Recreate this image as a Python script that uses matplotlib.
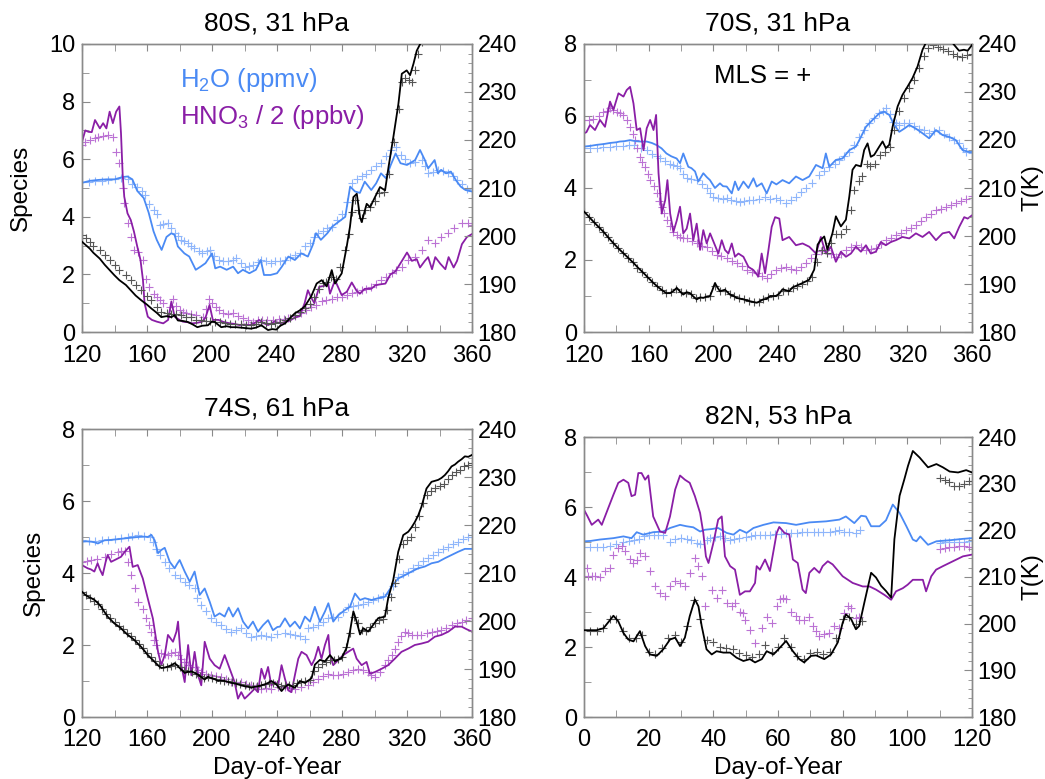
import matplotlib
matplotlib.use('Agg')
import matplotlib.pyplot as plt
from matplotlib.ticker import MultipleLocator

plt.rcParams['font.family'] = ['Liberation Sans', 'DejaVu Sans']
plt.rcParams['mathtext.fontset'] = 'custom'
plt.rcParams['mathtext.rm'] = 'Liberation Sans'
plt.rcParams['mathtext.it'] = 'Liberation Sans:italic'

# ---------------- DATA (day, value) ----------------
# Panel 1: 80S, 31 hPa
P1_H2O_MOD = [(120,5.18),(125,5.25),(130,5.28),(135,5.3),(140,5.3),(145,5.38),(148,5.4),(151,5.3),(154,4.9),(158,4.65),
 (161,4.15),(164,3.5),(166,3.2),(169,2.85),(172,3.3),(175,3.43),(177,3.37),(179,2.97),(183,2.73),(186,2.62),
 (188,2.39),(190,2.16),(193,2.27),(196,2.39),(200,2.73),(202,2.21),(205,2.27),(209,2.16),(213,2.27),(216,2.04),
 (219,2.16),(223,2.04),(227,2.16),(230,2.5),(232,1.98),(236,1.98),(240,2.04),(243,2.27),(247,2.62),(251,2.5),
 (255,2.73),(259,2.62),(262,3.02),(264,3.43),(267,3.2),(271,3.43),(274,3.66),(278,3.83),(282,4.0),(285,5.05),
 (288,4.88),(291,4.83),(294,5.22),(298,4.93),(301,5.16),(304,5.51),(307,5.34),(310,5.8),(313,6.2),(316,5.86),
 (320,5.8),(325,5.97),(328,6.32),(331,5.97),(333,5.68),(337,5.97),(339,5.51),(341,5.63),(344,5.51),(347,5.57),
 (350,5.28),(353,5.05),(356,4.93),(360,4.88)]
P1_H2O_MLS = [(120,5.22),(124,5.22),(128,5.24),(132,5.25),(136,5.28),(140,5.3),(144,5.33),(148,5.3),(151,5.15),(154,5.05),
 (157,4.9),(159,4.75),(161,4.45),(164,4.25),(166,4.1),(168,3.7),(170,3.75),(173,3.77),(175,3.6),(177,3.43),(179,3.35),
 (181,3.2),(183,3.15),(185,3.08),(187,3.0),(189,2.91),(192,2.8),(194,2.73),(197,2.8),(199,2.85),(201,2.65),(204,2.5),
 (207,2.48),(210,2.45),(213,2.5),(215,2.56),(218,2.4),(220,2.27),(223,2.3),(225,2.33),(228,2.42),(230,2.5),(233,2.45),
 (236,2.39),(239,2.45),(242,2.48),(245,2.5),(248,2.6),(251,2.68),(254,2.75),(257,2.97),(260,3.1),(263,3.3),(265,3.43),
 (268,3.5),(271,3.6),(274,3.66),(277,3.9),(280,4.1),(283,4.5),(286,5.16),(289,5.3),(292,5.4),(295,5.5),(298,5.63),
 (301,5.75),(304,5.86),(307,6.1),(310,6.32),(313,6.44),(316,6.15),(319,6.0),(322,5.86),(325,5.9),(329,5.97),(331,5.75),
 (333,5.51),(336,5.55),(339,5.63),(342,5.58),(345,5.51),(348,5.4),(351,5.28),(354,5.15),(357,4.98),(360,4.9)]
P1_HNO3_MOD = [(120,6.6),(122,7.0),(124,6.95),(126,6.94),(128,7.36),(131,7.07),(133,7.25),(135,7.07),(137,7.65),(139,7.25),
 (141,7.65),(143,7.83),(144,6.9),(145,5.5),(146,4.7),(148,4.12),(150,3.89),(152,3.48),(154,2.97),(156,2.5),(157.5,1.81),
 (158.5,1.0),(160.5,0.53),(163,0.42),(166,0.36),(170,0.3),(173,0.42),(175,1.06),(177,0.53),(180,0.42),(182,0.36),
 (185,0.34),(188,0.3),(191,0.32),(194,0.36),(196,0.5),(198.5,0.94),(200.5,0.42),(204,0.42),(207,0.35),(211,0.3),
 (214,0.28),(217,0.24),(220,0.26),(223,0.24),(226,0.3),(229,0.42),(232,0.3),(234.5,0.24),(238.5,0.36),(242,0.3),
 (245,0.35),(248,0.4),(251,0.5),(254,0.55),(257,1.0),(259,1.45),(261,1.2),(263,1.0),(266,1.57),(269,1.6),(271.5,1.68),
 (272.6,1.33),(275.7,1.8),(279.8,1.28),(283,1.4),(286,1.72),(289,1.43),(291,1.33),(294,1.5),(298,1.5),(300.5,1.62),
 (303,1.65),(306.7,1.68),(309.8,2.0),(312.8,2.1),(316.9,2.47),(320,2.76),(323,2.47),(326,2.53),(328,2.24),(331,2.47),
 (333,2.6),(335.4,2.18),(337.4,2.6),(340.5,2.37),(343.6,2.18),(345.6,2.6),(348.7,2.24),(350.8,2.47),(353.8,3.05),
 (356.9,3.3),(360,3.4)]
P1_HNO3_MLS = [(120,6.5),(122,6.6),(125,6.65),(128,6.72),(130,6.78),(133,6.8),(136,6.84),(139,6.78),(141,6.26),(143,5.86),
 (145,5.0),(146,4.47),(148,3.77),(150,3.31),(152,2.85),(154.5,2.79),(157.5,2.5),(159.5,1.85),(161.5,1.55),(164,1.33),
 (166,1.22),(168,1.1),(170,0.99),(174,0.88),(176,1.16),(178,0.9),(180,0.76),(182,0.7),(184,0.65),(187,0.62),(190,0.59),
 (194.5,0.53),(196,0.8),(198,1.16),(200,1.0),(202.6,0.88),(204.5,0.75),(207,0.65),(210,0.63),(213,0.65),(216,0.55),
 (219,0.47),(222,0.42),(225,0.36),(228,0.4),(231,0.42),(234,0.42),(237.5,0.42),(241,0.44),(244,0.45),(247,0.47),
 (251,0.55),(255,0.65),(258,0.75),(261,0.88),(264,0.95),(267.5,1.06),(270,1.1),(273.7,1.16),(277,1.2),(279.8,1.22),
 (283,1.28),(286,1.34),(289,1.4),(292,1.45),(295,1.5),(298,1.57),(301,1.65),(304,1.8),(307,1.9),(310.5,2.04),(313,2.15),
 (316.7,2.27),(320.8,2.5),(324.9,2.62),(329,2.85),(333,3.2),(337,3.08),(341,3.31),(345,3.43),(349,3.6),(353.6,3.77),
 (357.7,3.77),(360,3.72)]
P1_T_MOD = [(120,198.8),(122,198.2),(124.7,197.4),(127,196.5),(130.9,195.3),(134,194.0),(137,192.9),(140,191.8),(143,190.8),
 (147,189.8),(150,188.7),(153,187.6),(156.5,186.6),(160,185.7),(162.7,184.9),(166,184.0),(168.8,183.1),(172,183.3),
 (175,183.1),(177,183.5),(179,182.4),(182,182.3),(185,182.1),(188,181.6),(191,181.0),(194,181.3),(197.5,181.4),
 (200,182.2),(201.6,182.1),(205.7,181.0),(209,181.2),(212,181.0),(215,181.0),(218,180.9),(221,180.8),(224,180.7),
 (227,180.9),(230.4,181.4),(232,181.0),(234.5,180.4),(237,180.6),(239.6,180.5),(242,181.3),(245,181.8),(248,182.9),
 (251,183.9),(254,184.5),(257,185.3),(261,187.4),(264.4,190.1),(267.5,190.8),(270.6,189.5),(273.7,192.9),(275.7,190.1),
 (279.8,192.2),(282.9,197.8),(284.9,201.9),(287,208.1),(289.1,208.8),(291.1,203.9),(292.1,202.9),(295.2,206.7),
 (297.3,206.0),(300.3,208.1),(303.4,210.2),(306.5,209.5),(308.6,214.3),(311.6,220.6),(314.7,227.5),(316.8,233.8),
 (319.8,234.5),(321.9,233.5),(324,235.9),(326,238.6),(328.1,240.0),(330,241.5),(333,243.0)]
P1_T_MLS = [(120,200.2),(122.5,199.6),(124.7,198.8),(127,198.0),(130.9,197.1),(134,196.0),(137,195.0),(140,194.0),(143,192.9),
 (147,191.8),(150,190.8),(153,189.8),(156.5,188.7),(160,187.6),(162.7,186.6),(166,185.3),(168.8,184.2),(172,184.0),
 (175,183.8),(178,183.7),(181,183.5),(184,183.2),(187,183.1),(190,182.6),(193,182.4),(196,182.2),(199,182.2),(202,182.1),
 (205,182.1),(208,181.9),(211,181.7),(214,181.7),(218,181.7),(221,181.5),(224,181.4),(227,181.6),(230,182.1),(233,181.9),
 (236,181.7),(239,181.8),(242,182.1),(245,182.5),(248,182.9),(251,183.6),(254,184.1),(257,185.0),(260,185.8),(263,187.3),
 (266,189.0),(268,190.2),(270,190.5),(273,191.5),(276,191.0),(279,193.5),(282,197.0),(284,200.5),(286,205.0),(288,207.5),
 (290,205.5),(292,203.8),(294,205.5),(297,206.0),(300,207.3),(303,209.0),(306,209.2),(309,213.0),(312,219.5),(315,226.5),
 (317,232.0),(319,233.0),(321,232.5),(323,232.0),(325,234.5),(327,238.0),(329,240.5),(331,242.0)]

# Panel 2: 70S, 31 hPa
P2_H2O_MOD = [(120,5.15),(124,5.17),(128,5.2),(132,5.22),(136,5.25),(140,5.27),(142,5.29),(145,5.3),(148.5,5.33),(152,5.3),
 (155,5.29),(158.8,5.29),(162,5.25),(165,5.19),(168,5.1),(171,4.96),(174,4.88),(177.3,4.82),(179.4,4.69),(181.4,4.96),
 (184.5,4.59),(186.5,4.55),(188.7,4.46),(190.7,4.18),(193.8,4.41),(196,4.3),(197.9,4.22),(201,4.0),(204.1,4.13),(206,4.05),
 (208.3,4.04),(211.4,3.85),(213.4,4.18),(215.5,3.94),(218.6,4.18),(221.7,4.0),(224.8,4.27),(226.8,4.04),(229.9,4.13),
 (233,3.85),(236.1,4.18),(239,4.1),(242.8,4.22),(246.9,4.13),(251.1,4.32),(255.2,4.22),(259.3,4.32),(263.5,4.64),
 (267.6,4.55),(269.6,4.96),(271.7,4.59),(275.8,4.78),(279.9,4.82),(284.1,5.05),(288.2,5.15),(291.3,5.42),(294.4,5.7),
 (298.5,5.89),(302.6,6.07),(305.7,6.12),(308.8,6.03),(311.9,5.75),(315,5.56),(318.1,5.65),(321.2,5.75),(325.3,5.65),
 (329.4,5.52),(333.5,5.38),(337.7,5.61),(341.8,5.47),(345.9,5.42),(350,5.33),(354.2,5.05),(358.3,5.0),(360,5.0)]
P2_H2O_MLS = [(120,5.1),(124,5.12),(128,5.12),(132,5.14),(136,5.15),(140,5.17),(144,5.18),(148,5.19),(151,5.19),(155,5.12),
 (158.8,5.05),(162,4.95),(165,4.88),(167,4.82),(170,4.75),(173,4.68),(175.3,4.64),(177.5,4.6),(179.4,4.55),(181.5,4.4),
 (183.5,4.27),(186,4.25),(189.7,4.22),(193,4.1),(195.9,4.0),(198,3.85),(200,3.76),(203,3.72),(206,3.7),(208.3,3.72),
 (211,3.66),(214,3.64),(216.5,3.62),(219,3.64),(222,3.66),(224.8,3.67),(228,3.7),(232,3.76),(235,3.7),(238.7,3.72),
 (241.5,3.68),(244.9,3.57),(248,3.68),(251.1,3.76),(254,3.88),(257.2,4.0),(261.3,4.13),(265.5,4.36),(268.5,4.48),
 (271.7,4.59),(275,4.68),(277.9,4.78),(281,4.88),(284.1,5.01),(287,5.2),(290.2,5.42),(293,5.6),(296.4,5.8),(299.5,5.95),
 (302.6,6.07),(304.7,6.15),(306.8,6.21),(309,6.05),(310.9,5.84),(313,5.8),(315,5.75),(318,5.8),(321.2,5.8),(324.3,5.72),
 (327.4,5.65),(330.5,5.6),(333.5,5.52),(336.6,5.58),(339.7,5.61),(342.8,5.5),(345.9,5.42),(349,5.32),(352.1,5.24),
 (354.2,5.1),(356.2,5.0),(360,4.98)]
P2_HNO3_MOD = [(120,5.52),(121.5,5.55),(123.7,5.75),(126.8,5.61),(129.9,5.89),(133,5.7),(136.1,6.4),(138.2,6.17),(141.3,6.63),
 (144.4,6.54),(146.4,6.72),(148.5,6.81),(150.6,6.35),(152.6,5.61),(154.7,5.66),(156.8,5.05),(158.8,5.66),(160.9,5.89),
 (163,5.61),(164.6,6.03),(166.1,4.41),(168.1,3.29),(170.2,3.66),(171.6,4.22),(173.3,3.29),(175.3,2.78),(177.4,3.1),
 (179.4,3.48),(181.4,2.74),(183.5,2.87),(185.6,3.29),(187.6,2.55),(189.7,3.01),(191.8,2.28),(193.8,2.83),(195.9,2.46),
 (198,2.74),(201,2.41),(203.1,2.18),(205.2,2.55),(207.2,2.28),(209.3,2.18),(211.4,2.46),(213.4,2.09),(215.5,2.18),
 (218.6,2.09),(221.7,1.81),(224.8,1.72),(227.9,1.54),(229.9,2.18),(232,1.63),(234.1,2.28),(236.1,2.92),(238.2,3.19),
 (240.8,3.15),(242.8,2.55),(246.9,2.64),(251.1,2.41),(255.2,2.46),(259.3,2.37),(263.5,2.18),(266.5,2.64),(269.6,2.18),
 (272.7,2.37),(275.8,1.95),(278.9,2.23),(282,2.09),(285.1,2.18),(288.2,2.37),(291.3,2.23),(294.4,2.41),(297.4,2.18),
 (300.5,2.23),(303.6,2.5),(306.7,2.41),(309.8,2.5),(312.9,2.55),(317,2.64),(321.2,2.6),(325.3,2.74),(329.4,2.64),
 (333.5,2.78),(337.7,2.55),(341.8,2.74),(345.9,2.78),(349,2.6),(352.1,2.92),(355.2,3.19),(357.3,3.15),(360,3.24)]
P2_HNO3_MLS = [(120,5.89),(123,5.9),(125.8,5.93),(129,6.0),(132,6.12),(134,6.15),(136.1,6.21),(138,6.18),(140.2,6.12),(142,6.08),
 (144.4,6.03),(146.5,5.9),(148.5,5.7),(150,5.5),(151.6,5.33),(153,5.1),(154.7,4.87),(156,4.72),(157.8,4.59),(159.5,4.4),
 (160.9,4.22),(163,4.05),(165,3.85),(166.5,3.65),(168.1,3.48),(169.6,3.3),(171.2,3.11),(173,2.95),(175.3,2.78),(177.4,2.7),
 (179.4,2.65),(181.5,2.62),(183.5,2.6),(186.5,2.52),(189.7,2.46),(193,2.4),(195.9,2.37),(199,2.25),(202.1,2.14),(205,2.1),
 (208.3,2.05),(211.4,1.98),(214.5,1.91),(217.5,1.82),(220.6,1.72),(223.7,1.68),(226.8,1.63),(229.9,1.55),(233,1.5),
 (235.5,1.6),(238.7,1.72),(241.8,1.78),(244.9,1.81),(248,1.76),(251.1,1.72),(254,1.8),(257.2,1.91),(260.3,2.05),
 (263.5,2.18),(266.5,2.25),(269.6,2.28),(272.7,2.18),(275.8,2.09),(278.9,2.18),(282,2.28),(285.1,2.35),(288.2,2.41),
 (291.3,2.35),(294.4,2.28),(297.4,2.3),(300.5,2.32),(303.6,2.45),(306.7,2.55),(309.8,2.62),(312.9,2.69),(316,2.76),
 (319.1,2.83),(322.2,2.9),(325.3,2.97),(328.4,3.08),(331.4,3.19),(334.5,3.28),(337.7,3.38),(340.7,3.43),(343.8,3.48),
 (347,3.52),(350,3.57),(353,3.63),(356.2,3.7),(360,3.77)]
P2_T_MOD = [(120,205.1),(122.5,204.2),(125.8,203.0),(129,201.9),(132,200.9),(135,199.7),(138.2,198.5),(141,197.5),(144.4,196.4),
 (147.5,195.4),(150.6,194.4),(153.7,193.3),(156.8,192.3),(160,191.2),(163,190.2),(166,189.3),(169.1,188.5),(171,188.1),
 (173.3,188.1),(175.5,188.6),(177.4,189.2),(179.5,188.4),(181.4,187.8),(183.5,188.3),(185.6,188.1),(187.6,187.4),
 (189.7,186.8),(191.8,187.2),(193.8,187.1),(196,187.4),(198,187.5),(199.5,188.8),(201,190.2),(202.5,189.3),(204.1,188.5),
 (207.2,188.8),(210.3,187.8),(212.5,187.5),(214.5,187.1),(218.6,186.8),(222.7,186.4),(226.8,186.1),(228.8,186.4),
 (230.9,186.8),(233,186.9),(235.1,187.5),(238.7,187.5),(240.8,188.0),(242.8,188.9),(246.9,188.5),(249,189.3),(251.1,189.6),
 (255.2,190.2),(259.3,190.9),(262.4,193.0),(264.5,198.2),(266.5,199.2),(268.6,199.9),(270.6,197.2),(273.7,200.6),
 (275.8,204.1),(278.9,202.0),(282,203.4),(284.1,208.2),(286.1,213.8),(288.2,214.8),(291.3,214.5),(293.3,217.9),
 (295.4,219.3),(297.4,216.5),(299.5,216.9),(302.6,218.6),(304.7,219.7),(306.7,218.3),(308.8,219.0),(310.9,222.8),
 (314,227.0),(317,229.4),(320.1,231.1),(323.2,232.9),(326.3,235.3),(329.4,238.8),(331.4,240.2),(335,242.0),(340,243.0),
 (345,241.5),(349,239.8),(352,238.6),(355,238.8),(357.3,238.6),(360,239.8)]
P2_T_MLS = [(120,205.0),(123,204.0),(126,202.9),(129,201.9),(132,200.8),(135,199.7),(138,198.6),(141,197.5),(144,196.5),
 (147,195.4),(150,194.5),(153,193.4),(156,192.5),(159,191.5),(162,190.5),(165,189.6),(168,188.8),(171,188.2),(174,188.3),
 (177,189.0),(180,188.3),(183,188.2),(186,188.0),(189,187.1),(192,187.2),(195,187.2),(198,187.6),(201,189.6),(204,188.6),
 (207,188.6),(210,187.9),(213,187.5),(216,187.1),(219,186.8),(222,186.5),(225,186.2),(228,186.3),(231,186.8),(234,187.2),
 (237,187.4),(240,187.7),(243,188.6),(246,188.6),(249,189.2),(252,189.6),(255,190.0),(258,190.6),(261,191.5),(264,194.5),
 (267,197.0),(270,196.5),(273,198.5),(276,200.5),(279,200.5),(282,201.5),(285,205.5),(287,209.5),(290,211.5),(292,212.5),
 (295,215.0),(297,214.5),(300,215.0),(303,216.8),(306,217.5),(309,218.5),(312,222.0),(315,226.0),(318,228.8),(321,230.8),
 (324,232.6),(327,235.0),(330,237.5),(333,239.2),(336,239.7),(339,239.4),(342,239.0),(345,238.6),(348,238.0),(351,237.6),
 (354,237.3),(357,237.8),(360,237.9)]

# Panel 3: 74S, 61 hPa
P3_H2O_MOD = [(120,4.87),(123,4.88),(125.7,4.87),(128,4.85),(129.8,4.82),(131.5,4.86),(133.9,4.91),(138,4.92),(142.1,4.94),
 (146,4.96),(150.3,4.98),(154.5,5.0),(158.6,5.01),(160.5,5.0),(162.7,5.06),(164.7,4.91),(166.8,4.55),(168.8,4.64),
 (170.9,4.7),(172.5,4.5),(174,4.31),(177,4.13),(178.5,4.25),(180.1,4.36),(183.2,4.04),(186.3,3.76),(189.3,4.04),
 (192.4,3.39),(195.5,3.57),(198.6,3.2),(201.6,2.79),(204.7,2.88),(207.8,2.79),(210.3,3.04),(212.9,2.79),(216,3.02),
 (219.1,2.65),(222.2,2.46),(225.2,2.65),(228.3,2.37),(231.4,2.55),(234.5,2.69),(237.5,2.41),(240.2,2.5),(241.8,2.51),
 (244.9,2.74),(248,2.51),(251,2.65),(254.1,2.46),(257.2,2.79),(260.3,2.65),(263.3,3.06),(266.4,2.65),(269.5,2.93),
 (271.6,3.16),(274.6,2.65),(277.7,2.83),(281.8,2.97),(284.9,3.06),(288,3.43),(291.1,3.25),(294.1,3.3),(298.2,3.25),
 (302.3,3.3),(306.4,3.34),(310.5,3.62),(314.6,3.85),(318.7,3.94),(322.8,4.04),(326.9,4.13),(331,4.18),(335.1,4.27),
 (339.2,4.31),(343.3,4.41),(347.4,4.5),(351.5,4.59),(355.6,4.67),(360,4.67)]
P3_H2O_MLS = [(120,4.91),(124,4.9),(128,4.9),(132,4.92),(136,4.93),(140,4.95),(144,4.97),(148,5.0),(151,5.02),(154.5,5.05),
 (158,5.04),(161.6,5.01),(163.5,4.85),(165.7,4.68),(168,4.5),(170.9,4.31),(173.5,4.15),(177,3.94),(180,3.85),(183.2,3.76),
 (186,3.68),(189.3,3.57),(191,3.3),(193.4,3.11),(196.5,2.95),(199.6,2.74),(202.5,2.65),(205.7,2.55),(208.8,2.45),
 (211.9,2.37),(215,2.42),(218,2.46),(221,2.33),(224.2,2.23),(227.3,2.25),(230.4,2.28),(233.5,2.25),(236.5,2.23),(240,2.3),
 (244.9,2.32),(248,2.3),(251,2.28),(254,2.25),(257.2,2.18),(259.3,2.46),(262.4,2.5),(265.4,2.55),(268.5,2.65),(271.6,2.74),
 (274.6,2.77),(277.7,2.79),(280.8,2.92),(283.8,3.06),(287,3.08),(290,3.11),(293,3.15),(296.1,3.2),(299.2,3.25),(302.3,3.3),
 (305.4,3.36),(308.4,3.43),(311.5,3.65),(314.6,3.9),(317.7,3.98),(320.8,4.04),(323.8,4.13),(326.9,4.22),(330,4.32),
 (333,4.41),(336,4.5),(339.2,4.59),(342.3,4.66),(345.4,4.73),(348.5,4.8),(351.5,4.87),(354.6,4.95),(357.7,5.0),(360,5.05)]
P3_HNO3_MOD = [(120,4.22),(121.5,4.18),(123.5,4.13),(125.5,4.1),(127.6,4.04),(129.6,4.27),(131,4.1),(132.7,3.94),(134.5,4.3),
 (135.8,4.5),(137.9,4.31),(141,4.38),(144,4.45),(146.5,4.6),(149.2,4.73),(151.2,4.17),(154.3,4.22),(157.4,3.85),(160.5,3.29),
 (163.6,2.74),(166.8,1.81),(168.8,1.44),(170.9,1.72),(172.9,2.28),(176,2.09),(178.1,2.37),(179.1,2.65),(181.1,1.44),
 (183.2,0.97),(185.3,2.0),(187.3,1.16),(189.3,1.81),(191.4,1.16),(193.4,0.88),(195.5,2.09),(198.6,1.62),(201.6,1.44),
 (204.7,1.34),(207.8,1.72),(210.9,1.34),(213.9,0.97),(216,0.51),(218,0.69),(220.1,0.51),(222.2,0.6),(224.2,0.69),
 (226.3,0.79),(228.3,0.69),(230.4,1.34),(232.4,1.06),(234.5,1.39),(236.5,0.88),(238.8,0.97),(240.7,0.88),(242.8,1.44),
 (244.9,1.06),(246.9,0.74),(248.9,0.69),(251,1.16),(253.1,1.62),(255.1,1.81),(258.2,1.72),(261.3,1.44),(263.3,1.62),
 (265.4,1.95),(267.4,1.62),(269.5,2.0),(271.6,2.28),(272.6,1.72),(274.6,1.44),(277.7,1.58),(280.8,1.72),(283.8,1.81),
 (286.9,1.9),(289,1.62),(292.1,1.44),(295.1,1.53),(297.2,1.2),(300.3,1.25),(304.4,1.34),(308.4,1.44),(312.5,1.62),
 (316.6,1.81),(320.8,1.9),(324.8,2.0),(328.9,2.04),(333,2.09),(337.1,2.23),(341.2,2.28),(345.4,2.37),(349.5,2.51),
 (353.6,2.51),(356.6,2.44),(360,2.37)]
P3_HNO3_MLS = [(120,4.31),(123,4.33),(125.7,4.36),(129,4.4),(133.9,4.45),(138,4.52),(142.1,4.59),(144,4.6),(146.2,4.61),
 (148.2,4.31),(150.3,3.94),(152.4,3.57),(154.4,3.2),(157.5,3.01),(159.6,2.74),(161,2.55),(162.7,2.37),(164,2.15),(165.7,2.0),
 (168.8,1.77),(171,1.74),(172.9,1.72),(175,1.78),(177,1.81),(179,1.72),(181.1,1.62),(183,1.52),(185.3,1.44),(189.3,1.39),
 (191.5,1.3),(193.4,1.25),(196.5,1.2),(199.6,1.16),(202.5,1.13),(205.7,1.11),(208.8,1.05),(211.9,0.97),(215,0.97),(218,0.97),
 (221,0.93),(224.2,0.88),(227.3,0.83),(230.4,0.79),(233.5,0.8),(236.5,0.79),(240.7,0.82),(244.9,0.83),(248,0.81),(251,0.79),
 (255,0.82),(259.3,0.88),(262.4,0.97),(265.4,1.06),(268.5,1.13),(271.6,1.2),(274.6,1.18),(277.7,1.16),(280.8,1.2),
 (283.8,1.25),(287,1.3),(290,1.34),(293,1.3),(296.1,1.25),(298,1.18),(300.3,1.11),(303.4,1.25),(306.4,1.44),(308.5,1.58),
 (310.5,1.72),(312.5,1.9),(314.6,2.09),(316.6,2.25),(318.7,2.37),(320.8,2.33),(322.8,2.28),(325.9,2.28),(328.9,2.28),
 (332,2.32),(335.1,2.37),(338.2,2.39),(341.2,2.41),(344.3,2.48),(347.4,2.55),(350.5,2.6),(353.6,2.65),(356.6,2.7),(360,2.74)]
P3_T_MOD = [(120,206.1),(121.5,205.6),(123.5,205.1),(125.5,204.8),(127.6,204.4),(129.6,203.8),(131.7,203.0),(133.8,201.9),
 (135.8,200.9),(137.9,200.2),(139.9,199.5),(142,199.0),(144,198.5),(146,197.8),(148.2,197.1),(150.2,196.6),(152.3,196.0),
 (154.3,195.3),(156.4,194.6),(158.4,193.8),(160.5,192.9),(162.6,192.2),(164.7,191.5),(166.7,190.8),(168.8,190.2),
 (170.8,190.3),(172.9,190.5),(175,190.8),(177,191.2),(178.5,190.8),(180.1,190.2),(182,189.6),(183.2,189.2),(185.2,189.4),
 (187.3,189.5),(189.3,189.2),(191.4,188.8),(193.5,188.3),(195.5,187.8),(197.5,188.4),(199.6,188.1),(201.6,187.9),
 (203.7,187.5),(205.7,187.6),(207.8,187.5),(209.8,187.3),(211.9,187.1),(214,187.0),(216,186.8),(218,186.6),(220.1,186.4),
 (222.2,186.3),(224.2,186.1),(226.3,186.3),(228.3,186.4),(230.4,186.6),(232.4,186.8),(234.5,187.1),(236.5,187.5),
 (239.6,186.8),(242.8,185.4),(244.8,186.2),(246.9,186.8),(249,186.4),(251,186.1),(254.1,187.5),(257.2,187.1),(259.3,187.6),
 (261.3,188.1),(263.3,190.9),(266.4,191.9),(269.5,191.6),(272.6,192.9),(275.7,191.6),(279.8,192.3),(282.8,194.4),
 (284.9,197.8),(287,202.0),(289,199.9),(291.1,197.2),(293.1,198.5),(296.1,197.8),(299.2,199.2),(302.3,200.6),(306.4,200.9),
 (308.4,204.7),(311.5,208.5),(314.6,214.4),(317.7,217.9),(320.8,218.6),(322.8,219.5),(324.8,220.6),(326.9,222.0),
 (328.9,223.8),(332,227.6),(335.1,229.0),(337.2,229.2),(339.2,229.4),(341.2,229.8),(343.3,230.4),(345.3,231.2),
 (347.4,232.2),(349.5,232.6),(351.5,233.2),(353.6,233.7),(355.6,234.3),(357.7,234.2),(360,234.6)]
P3_T_MLS = [(120,206.0),(122.5,205.4),(125,204.8),(127.5,204.2),(130,203.6),(132.5,202.5),(135,201.5),(137.5,200.6),(140,199.8),
 (142.5,199.0),(145,198.3),(147.5,197.5),(150,196.8),(152.5,196.0),(155,195.2),(157.5,194.3),(160,193.4),(162.5,192.5),
 (165,191.6),(167.5,190.9),(170,190.4),(172.5,190.4),(175,190.6),(177.5,190.8),(180,190.4),(182.5,189.8),(185,189.5),
 (187.5,189.4),(190,189.0),(192.5,188.6),(195,188.2),(197.5,188.3),(200,188.2),(202.5,188.0),(205,187.8),(207.5,187.6),
 (210,187.4),(212.5,187.2),(215,187.0),(217.5,186.8),(220,186.7),(222.5,186.5),(225,186.4),(227.5,186.5),(230,186.6),
 (232.5,186.8),(235,187.0),(237.5,187.0),(240,186.8),(242.5,186.4),(245,186.6),(247.5,186.7),(250,186.6),(252.5,187.0),
 (255,187.2),(257.5,187.4),(260,187.8),(262.5,189.5),(265,190.5),(267.5,191.0),(270,191.4),(272.5,191.8),(275,191.8),
 (277.5,192.0),(280,192.6),(282.5,194.5),(285,197.5),(287.5,200.8),(290,199.5),(292.5,198.2),(295,198.0),(297.5,198.8),
 (300,199.6),(302.5,200.2),(305,200.5),(307.5,202.2),(310,205.0),(312.5,208.0),(315,213.0),(317.5,216.0),(320,216.8),
 (322.5,217.5),(325,219.5),(327.5,221.8),(330,224.5),(332.5,226.2),(335,227.0),(337.5,227.8),(340,228.2),(342.5,228.6),
 (345,229.6),(347.5,230.4),(350,231.0),(352.5,231.5),(355,232.2),(357.5,232.6),(360,233.0)]

# Panel 4: 82N, 53 hPa
P4_H2O_MOD = [(0,5.02),(2,5.03),(4.9,5.07),(7,5.09),(9.1,5.11),(12.2,5.16),(14.7,5.11),(16.3,5.28),(18.3,5.21),(21.4,5.28),
 (24.5,5.3),(26.6,5.4),(29.7,5.49),(31.7,5.45),(33.8,5.42),(35.9,5.3),(37.4,5.35),(39.5,5.37),(41.5,5.4),(44.1,5.26),
 (46.2,5.21),(48.2,5.35),(50.3,5.26),(52.4,5.4),(55.5,5.49),(58.6,5.56),(62.5,5.54),(65.6,5.49),(69.7,5.56),(74.9,5.59),
 (79,5.64),(81,5.73),(83.6,5.54),(85.7,5.75),(87.2,5.73),(88.8,5.45),(91.4,5.45),(93.4,5.62),(95.5,6.07),(97.6,5.83),
 (99.7,5.45),(101.7,5.07),(102.8,5.02),(104,5.16),(106.4,4.92),(109,5.02),(113.1,5.05),(117.2,5.09),(120,5.11)]
P4_H2O_MLS = [(0,4.86),(2,4.86),(4,4.86),(6,4.87),(8,4.9),(10,4.95),(12,5.0),(14,5.02),(15.5,5.05),(17,5.1),(18.5,5.16),
 (20,5.2),(21.5,5.21),(23,5.21),(24.5,5.21),(26.5,5.0),(28,5.08),(30,5.11),(32,5.08),(33,5.05),(35,4.98),(36,4.95),(38,5.05),
 (39,5.11),(40.5,5.14),(42,5.16),(43.5,5.12),(45,5.05),(46.5,5.08),(48,5.11),(50,5.14),(51.5,5.16),(53,5.19),(54.5,5.21),
 (56,5.21),(57.5,5.21),(59,5.22),(61,5.24),(62.5,5.26),(64,5.26),(66,5.27),(67.5,5.28),(69,5.29),(71,5.3),(72.5,5.3),
 (74,5.3),(76,5.3),(77.5,5.32),(79,5.33),(80.5,5.3),(82,5.28),(84,5.26),(85.5,5.33),(110,4.98),(111.5,4.99),(113,5.0),
 (114.5,5.0),(116,5.0),(117.5,5.01),(119,5.02),(120,5.02)]
P4_HNO3_MOD = [(0,5.92),(1,5.75),(2.4,5.49),(4.4,5.64),(5.5,5.49),(7.5,5.97),(9.1,6.35),(10.6,6.69),(12.2,6.78),(13.7,6.69),
 (14.7,6.31),(15.8,6.35),(16.8,6.97),(17.8,6.97),(18.9,6.78),(19.9,6.9),(21.4,5.73),(23.5,5.3),(25.1,5.26),(26.6,5.73),
 (28.2,6.5),(29.7,6.9),(31.2,6.78),(32.7,6.69),(34.3,6.31),(35.9,5.83),(36.9,5.26),(37.7,4.59),(38.5,4.4),(40,4.97),
 (41.5,5.64),(42.6,5.73),(43.6,4.59),(45.2,4.31),(46.7,4.21),(48.2,3.49),(49.8,3.59),(51.3,3.59),(52.9,3.83),(53.4,4.31),
 (54.4,4.21),(56,4.5),(57.5,4.17),(59.6,5.26),(60.4,5.43),(62,5.26),(63.5,5.21),(64.6,4.5),(66.1,4.4),(67.6,3.64),
 (68.6,3.54),(69.7,4.12),(71.2,4.26),(72.8,4.12),(73.8,4.31),(75.4,4.45),(76.9,4.36),(80,4.02),(83.1,3.83),(86.2,3.73),
 (88.3,3.73),(90.3,3.64),(92.9,3.49),(95,3.35),(96.5,3.59),(98.6,3.68),(100.1,3.78),(101.7,3.92),(104.8,3.92),(105.8,3.59),
 (107.4,4.02),(108.9,4.21),(111,4.31),(114.1,4.45),(117.2,4.59),(120,4.64)]
P4_HNO3_MLS = [(0.8,4.26),(1.3,4.02),(2.5,4.04),(3.4,4.04),(4.9,4.0),(6.5,4.16),(8,4.26),(9.1,4.64),(10.6,4.83),(11.6,4.88),
 (12.6,4.73),(14.2,4.51),(15.2,4.4),(16.3,4.5),(17.3,4.69),(18.9,4.59),(20.4,4.16),(22,3.73),(23.5,3.54),(25.1,3.45),
 (26.6,3.73),(28.2,3.88),(29.7,3.83),(31.2,3.73),(32.7,4.12),(34.3,4.55),(35.4,4.31),(36.4,4.02),(37.4,3.16),(39.5,3.64),
 (41,3.4),(42.6,3.64),(44.1,3.26),(45.7,3.16),(46.7,3.26),(48.2,3.0),(49.3,2.97),(49.8,2.78),(51.3,2.49),(52.9,2.11),
 (55,2.54),(56.5,2.87),(58.1,2.69),(59.6,3.16),(60.5,3.38),(61.5,3.4),(62.5,3.38),(64,3.0),(65.6,2.9),(66.6,2.76),
 (68.1,2.76),(69.7,2.85),(70.7,2.59),(71.8,2.45),(72.8,2.31),(74.3,2.36),(75.9,2.4),(77.4,2.59),(79,2.54),(80.5,2.97),
 (81.6,3.16),(82.6,3.12),(84.1,2.83),(85.1,2.87),(110,4.8),(111.5,4.82),(113,4.85),(114.5,4.87),(116,4.88),(117.5,4.88),
 (119,4.87),(120,4.86)]
P4_T_MOD = [(0,198.6),(2,198.6),(3.9,198.6),(6,199.0),(7.5,200.3),(9.1,201.7),(10.6,200.5),(12.2,198.0),(13.7,196.6),
 (15.3,196.2),(17.3,198.4),(18.9,195.2),(20.4,193.4),(22.5,193.1),(24.5,194.5),(26.6,196.6),(28.2,197.0),(29.7,195.2),
 (31.2,197.0),(32.7,201.6),(34.3,205.2),(35.4,203.7),(36.4,199.5),(37.9,194.5),(39.5,193.4),(41,194.1),(43.1,193.8),
 (45.2,193.8),(47.2,192.7),(49.3,192.0),(51.3,192.4),(52.9,191.7),(55,192.4),(56.5,194.1),(58.6,193.4),(60.1,194.5),
 (62.5,196.3),(64.6,194.1),(66.6,192.4),(68.1,191.7),(70.2,193.1),(71.8,193.2),(74.3,192.4),(76.4,193.4),(78.5,196.0),
 (80,200.2),(81,202.0),(82.6,201.0),(84.1,198.8),(85.1,199.5),(86.7,204.5),(88.8,210.9),(90.3,209.9),(91.9,208.1),
 (93.4,207.0),(95,205.6),(96,218.1),(97.6,227.4),(99.1,231.0),(100.2,233.8),(101.7,237.0),(103.8,235.6),(106.4,233.5),
 (109,234.2),(111,233.5),(113.1,232.6),(115.7,232.4),(118.2,232.9),(120,232.4)]
P4_T_MLS = [(0,198.6),(2,198.5),(4,198.5),(6,199.0),(8,201.0),(10,201.0),(12,198.5),(14,197.0),(16,197.0),(18,197.5),
 (20,194.0),(22,193.5),(24,194.8),(26,197.0),(28,197.5),(30,196.0),(32,199.5),(34,205.0),(36,201.0),(38,196.5),(40,196.0),
 (42,195.0),(44,194.8),(46,194.5),(48,193.8),(50,193.2),(52,192.8),(54,193.5),(56,195.5),(58,194.0),(60,195.0),(62,197.0),
 (64,195.0),(66,193.0),(68,192.5),(70,193.8),(72,194.0),(74,193.5),(76,194.0),(78,197.0),(80,201.0),(82,201.5),(84,200.0),
 (86,200.5),(110,231.2),(111.5,230.8),(113,230.3),(114.5,229.6),(116,229.4),(117.5,230.0),(119,230.6),(120,230.5)]

TITLES = ["80S, 31 hPa", "70S, 31 hPa", "74S, 61 hPa", "82N, 53 hPa"]
X_TICKS_SH = [120, 160, 200, 240, 280, 320, 360]
X_TICKS_NH = [0, 20, 40, 60, 80, 100, 120]
T_TICKS = [180, 190, 200, 210, 220, 230, 240]

# ---------------- STYLE ----------------
C_H2O = '#4a8af4'
C_H2O_MLS = '#8fb6fb'
C_HNO3 = '#8a1ea6'
C_HNO3_MLS = '#bb72d4'
C_T = '#000000'
C_T_MLS = '#555555'
SPINE = '#8a8a8a'

W, H = 1045, 779
fig = plt.figure(figsize=(W / 100, H / 100), dpi=100)

def frac(l, t, r, b):
    return [l / W, 1 - b / H, (r - l) / W, (b - t) / H]

panels = [
    dict(rect=frac(82, 44, 472, 332), title=TITLES[0], xlim=(120, 360), xticks=X_TICKS_SH, xminor=20, ymax=10,
         data=(P1_H2O_MOD, P1_H2O_MLS, P1_HNO3_MOD, P1_HNO3_MLS, P1_T_MOD, P1_T_MLS), ylab=True, tlab=False, xlab=False),
    dict(rect=frac(584, 44, 972, 332), title=TITLES[1], xlim=(120, 360), xticks=X_TICKS_SH, xminor=20, ymax=8,
         data=(P2_H2O_MOD, P2_H2O_MLS, P2_HNO3_MOD, P2_HNO3_MLS, P2_T_MOD, P2_T_MLS), ylab=False, tlab=True, xlab=False),
    dict(rect=frac(82, 429, 472, 717), title=TITLES[2], xlim=(120, 360), xticks=X_TICKS_SH, xminor=20, ymax=8,
         data=(P3_H2O_MOD, P3_H2O_MLS, P3_HNO3_MOD, P3_HNO3_MLS, P3_T_MOD, P3_T_MLS), ylab=True, tlab=False, xlab=True),
    dict(rect=frac(584, 437, 972, 717), title=TITLES[3], xlim=(0, 120), xticks=X_TICKS_NH, xminor=10, ymax=8,
         data=(P4_H2O_MOD, P4_H2O_MLS, P4_HNO3_MOD, P4_HNO3_MLS, P4_T_MOD, P4_T_MLS), ylab=False, tlab=True, xlab=True),
]

def xy(pairs):
    return [p[0] for p in pairs], [p[1] for p in pairs]

TICK_FS = 17
MS, MEW = 5.5, 0.8
for i, p in enumerate(panels):
    ax = fig.add_axes(p['rect'])
    ax2 = ax.twinx()
    h2o_m, h2o_o, hno3_m, hno3_o, t_m, t_o = p['data']

    # MLS crosses
    for pairs, col in ((h2o_o, C_H2O_MLS), (hno3_o, C_HNO3_MLS)):
        x, y = xy(pairs)
        ax.plot(x, y, ls='none', marker='+', ms=MS, mew=MEW, color=col, zorder=2)
    x, y = xy(t_o)
    ax2.plot(x, y, ls='none', marker='+', ms=MS, mew=MEW, color=C_T_MLS, zorder=2)
    # model lines
    x, y = xy(h2o_m)
    ax.plot(x, y, color=C_H2O, lw=1.3, zorder=3)
    x, y = xy(hno3_m)
    ax.plot(x, y, color=C_HNO3, lw=1.3, zorder=3)
    x, y = xy(t_m)
    ax2.plot(x, y, color=C_T, lw=1.3, zorder=3)

    ax.set_xlim(*p['xlim'])
    ax.set_ylim(0, p['ymax'])
    ax2.set_ylim(180, 240)
    ax.set_xticks(p['xticks'])
    ax.xaxis.set_minor_locator(MultipleLocator(p['xminor']))
    ax.yaxis.set_major_locator(MultipleLocator(2))
    ax.yaxis.set_minor_locator(MultipleLocator(1))
    ax2.set_yticks(T_TICKS)
    ax2.yaxis.set_minor_locator(MultipleLocator(2))

    for a in (ax, ax2):
        for s in a.spines.values():
            s.set_color(SPINE)
            s.set_linewidth(1.0)
    ax.tick_params(axis='x', which='both', direction='in', top=True, bottom=True, colors=SPINE,
                   labelcolor='black', labelsize=TICK_FS, pad=9)
    ax.tick_params(axis='x', which='major', length=5)
    ax.tick_params(axis='x', which='minor', length=5)
    ax.tick_params(axis='y', which='both', direction='in', left=True, right=False, colors=SPINE,
                   labelcolor='black', labelsize=TICK_FS, pad=5)
    ax.tick_params(axis='y', which='major', length=6)
    ax.tick_params(axis='y', which='minor', length=5)
    ax2.tick_params(axis='y', which='both', direction='in', right=True, left=False, colors=SPINE,
                    labelcolor='black', labelsize=TICK_FS, pad=4)
    ax2.tick_params(axis='y', which='major', length=6)
    ax2.tick_params(axis='y', which='minor', length=3)

    ax.text(0.5, 1.072, p['title'], transform=ax.transAxes, ha='center', va='center', fontsize=19)
    if p['ylab']:
        ax.set_ylabel('Species', fontsize=17.5, labelpad=12)
    if p['tlab']:
        ax2.set_ylabel('T(K)', fontsize=17.5, labelpad=3)
    if p['xlab']:
        ax.set_xlabel('Day-of-Year', fontsize=17.5, labelpad=4)

    if i == 0:
        ax.text(0.251, 0.875, r'H$_{\mathregular{2}}$O (ppmv)', transform=ax.transAxes, ha='left', va='center',
                fontsize=18.5, color=C_H2O)
        ax.text(0.251, 0.745, r'HNO$_{\mathregular{3}}$ / 2 (ppbv)', transform=ax.transAxes, ha='left', va='center',
                fontsize=18.5, color=C_HNO3)
    if i == 1:
        ax.text(0.461, 0.889, 'MLS = +', transform=ax.transAxes, ha='center', va='center', fontsize=18.5, color='black')

fig.savefig('out.png', dpi=100)
